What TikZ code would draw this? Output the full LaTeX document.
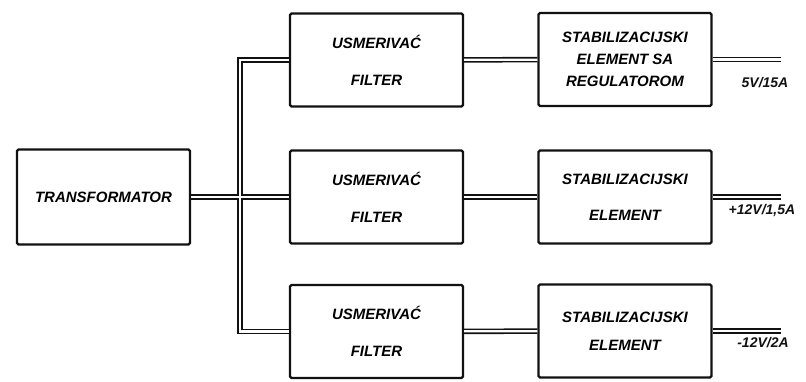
\documentclass[tikz,border=0pt]{standalone}
\usepackage{fontspec}
\setmainfont{Liberation Sans}
\usepackage{tikz}
\usetikzlibrary{positioning}
\definecolor{PSInk}{HTML}{111111}
\definecolor{PSPaper}{HTML}{FFFFFF}

\begin{document}
\begin{tikzpicture}[x=1pt,y=-1pt,
      block/.style={draw=PSInk,line width=2.2pt,rounded corners=1.5pt,
        minimum width=173pt,minimum height=93pt,align=center,
        font=\fontsize{15}{37}\selectfont\bfseries\itshape},
      rating/.style={font=\fontsize{14}{16}\selectfont\bfseries\itshape,text=PSInk}
    ]
    \useasboundingbox (0,0) rectangle (806,381);
    \node[block,minimum height=95pt] (tr) at (103.5,197) {TRANSFORMATOR};

    \node[block] (u1) at (376.5,60) {USMERIVAĆ\\FILTER};
    \node[block] (u2) at (376.5,197) {USMERIVAĆ\\FILTER};
    \node[block] (u3) at (376.5,331.5) {USMERIVAĆ\\FILTER};

    \node[block,font=\fontsize{15}{22}\selectfont\bfseries\itshape] (s1) at (625,59.5)
      {STABILIZACIJSKI\\ELEMENT SA\\REGULATOROM};
    \node[block,font=\fontsize{15}{36}\selectfont\bfseries\itshape] (s2) at (625,197)
      {STABILIZACIJSKI\\ELEMENT};
    \node[block,font=\fontsize{15}{28}\selectfont\bfseries\itshape] (s3) at (625,331)
      {STABILIZACIJSKI\\ELEMENT};

    \coordinate (bus) at (240,197);
    \coordinate (o1) at (781,59.5);
    \coordinate (o2) at (781,197);
    \coordinate (o3) at (781,331);

    % double wires: dark outline first, then the light core
    \foreach \c/\w in {PSInk/5.5pt,PSPaper/2.2pt} {
      \draw[draw=\c,line width=\w] (tr.east) -- (u2.west);
      \draw[draw=\c,line width=\w] (u1.west) -| (bus) |- (u3.west);
      \draw[draw=\c,line width=\w] (u1) -- (s1);
      \draw[draw=\c,line width=\w] (u2) -- (s2);
      \draw[draw=\c,line width=\w] (u3) -- (s3);
      \draw[draw=\c,line width=\w] (s1.east) -- (o1);
      \draw[draw=\c,line width=\w] (s2.east) -- (o2);
      \draw[draw=\c,line width=\w] (s3.east) -- (o3);
    }

    \node[rating] (r1) at (765,83) {5V/15A};
    \node[rating] (r2) at (762,211) {+12V/1,5A};
    \node[rating] (r3) at (763,343) {-12V/2A};
  \end{tikzpicture}
\end{document}
